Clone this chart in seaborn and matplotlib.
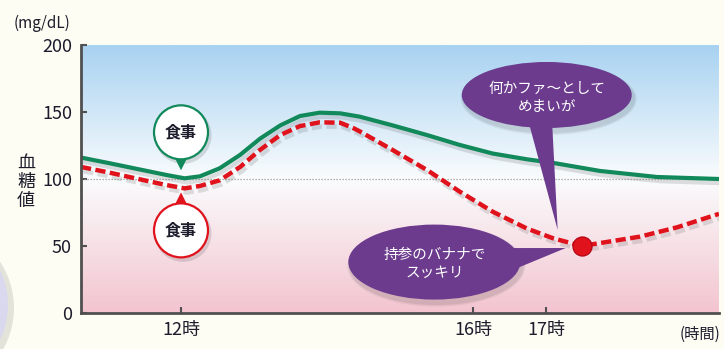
import numpy as np
import pandas as pd
import matplotlib
matplotlib.use("Agg")
import matplotlib.pyplot as plt
import matplotlib.patches as mpatches
import matplotlib.transforms as mtrans
import matplotlib.patheffects as pe
import seaborn as sns

# ---------------- data ----------------
hours_green = [10.63, 11.0, 11.4, 11.8, 12.05, 12.26, 12.53, 12.81, 13.08, 13.36,
               13.63, 13.9, 14.18, 14.45, 14.9, 15.37, 15.82, 16.27, 16.74, 17.1,
               17.74, 18.52, 19.37]
glucose_green = [116, 112, 107.5, 103, 100.5, 102, 108, 118, 130, 140,
                 147, 149.5, 149, 146.5, 140, 132.8, 125.4, 119, 114.7, 112,
                 106, 101.5, 100]

hours_red = [10.63, 11.0, 11.5, 11.8, 12.05, 12.26, 12.53, 12.81, 13.08, 13.36,
             13.63, 13.9, 14.18, 14.36, 14.45, 14.9, 15.37, 15.82, 16.27, 16.74,
             17.1, 17.49, 18.29, 18.8, 19.37]
glucose_red = [109, 105, 99, 95.5, 93, 94.8, 99, 109, 121.6, 132.8,
               139.5, 142.3, 142, 138, 135.5, 121.6, 106.7, 90.5, 75.6, 63,
               55.7, 50, 57, 64, 74]

banana_time = [17.49]
banana_value = [50]

yticks = [0, 50, 100, 150, 200]
xticks = [12, 16, 17]
xtick_labels = ["12時", "16時", "17時"]
meal_time = 12
meal_green = 100.5
meal_red = 93
reference_level = 100

meal_label = "食事"
dizzy_text = "何かファ〜として\nめまいが"
banana_text = "持参のバナナで\nスッキリ"
y_unit = "(mg/dL)"
y_title = "血\n糖\n値"
x_unit = "(時間)"

# ---------------- style ----------------
sns.set_theme(style="white")
plt.rcParams["font.family"] = ["Noto Sans CJK JP", "DejaVu Sans"]

W, H = 724, 349
BG = "#fefdf3"
GREEN = "#11895a"
RED = "#e0121c"
PURPLE = "#6c3b8e"
INK = "#1c1c2c"
SPINE = "#505050"

fig = plt.figure(figsize=(W / 100, H / 100), dpi=100, facecolor=BG)
ax = fig.add_axes([81 / W, 1 - 313 / H, 638 / W, 268 / H])
xmin, xmax = 10.63, 19.37
ax.set_xlim(xmin, xmax)
ax.set_ylim(0, 200)

# gradient background (blue top -> white at 100 -> pink bottom)
vals = np.linspace(0, 200, 256)
top = np.array([168, 210, 241]) / 255
mid = np.array([250, 252, 253]) / 255
bot = np.array([243, 196, 207]) / 255
cols = np.empty((256, 1, 3))
for i, v in enumerate(vals):
    if v >= 100:
        t = (v - 100) / 100
        cols[i, 0] = mid * (1 - t) + top * t
    else:
        t = (100 - v) / 100
        cols[i, 0] = mid * (1 - t) + bot * t
ax.imshow(cols, extent=[xmin, xmax, 0, 200], origin="lower", aspect="auto", zorder=0)

ax.axhline(reference_level, color="#9a9a9a", lw=0.9, ls=(0, (1, 1.4)), zorder=1)

df_g = pd.DataFrame({"hour": hours_green, "glucose": glucose_green})
df_r = pd.DataFrame({"hour": hours_red, "glucose": glucose_red})
sns.lineplot(data=df_g, x="hour", y="glucose", ax=ax, color=GREEN, linewidth=3.0,
             estimator=None, zorder=3)
gline = ax.lines[-1]
sns.lineplot(data=df_r, x="hour", y="glucose", ax=ax, color=RED, linewidth=3.2,
             estimator=None, zorder=4)
rline = ax.lines[-1]
rline.set_dashes((2.3, 1.0))
for ln in (gline, rline):
    ln.set_solid_joinstyle("round")
    ln.set_dash_joinstyle("round")
    ln.set_solid_capstyle("butt")
    ln.set_dash_capstyle("butt")
    ln.set_path_effects([pe.SimpleLineShadow(offset=(1.5, -3), shadow_color="#555555", alpha=0.18),
                         pe.Normal()])

sns.scatterplot(x=banana_time, y=banana_value, ax=ax, s=190, color=RED,
                edgecolor="#b00010", linewidth=0.8, zorder=6)

ax.set_xlabel("")
ax.set_ylabel("")
ax.set_yticks(yticks)
ax.set_yticklabels([str(v) for v in yticks])
ax.set_xticks(xticks)
ax.set_xticklabels(xtick_labels)
for side in ("top", "right"):
    ax.spines[side].set_visible(False)
for side in ("left", "bottom"):
    ax.spines[side].set_visible(True)
    ax.spines[side].set_color(SPINE)
    ax.spines[side].set_linewidth(2.0)
    ax.spines[side].set_zorder(7)
ax.tick_params(axis="both", direction="in", length=4.5, width=1.5, color=SPINE,
               labelsize=13, labelcolor=INK, left=True, bottom=True)
ax.tick_params(axis="y", pad=6.5)
ax.tick_params(axis="x", pad=5.5)

# ---------------- annotations ----------------
ID = mtrans.IdentityTransform()


def px(x, y):
    return ax.transData.transform((x, y))


def add(p):
    p.set_transform(ID)
    p.set_clip_on(False)
    fig.add_artist(p)


def meal_bubble(anchor, dy, edge):
    cx, cy = anchor[0], anchor[1] + dy
    r = 27
    sgn = -1 if dy > 0 else 1
    add(mpatches.Circle((cx + 2, cy - 3), r + 1.5, facecolor="#000000", alpha=0.12,
                        edgecolor="none", zorder=8))
    tri = mpatches.Polygon([(cx - 7, cy + sgn * (r - 3)), (cx + 7, cy + sgn * (r - 3)),
                            (cx, cy + sgn * (r + 11))], closed=True,
                           facecolor=edge, edgecolor="none", zorder=9)
    add(tri)
    add(mpatches.Circle((cx, cy), r, facecolor="white", edgecolor=edge, linewidth=1.6, zorder=10))
    fig.text(cx / W, cy / H, meal_label, ha="center", va="center", fontsize=11.5,
             fontweight="bold", color=INK, zorder=11)


meal_bubble(px(meal_time, meal_green), 46, GREEN)
meal_bubble(px(meal_time, meal_red), -42, RED)


def speech(center, w, h, tail, text, tdy):
    cx, cy = center
    for k, a in ((6, 0.06), (3, 0.08)):
        add(mpatches.Ellipse((cx + 2, cy - 4), w + k, h + k, facecolor="#000000",
                             alpha=a, edgecolor="none", zorder=8))
    add(mpatches.Polygon(tail, closed=True, facecolor=PURPLE, edgecolor="none", zorder=9))
    add(mpatches.Ellipse((cx, cy), w, h, facecolor=PURPLE, edgecolor="none", zorder=10))
    fig.text(cx / W, (cy + tdy) / H, text, ha="center", va="center", fontsize=10.5,
             color="white", linespacing=1.35, zorder=11)


# upper bubble: points to the red curve around 17時
c1 = px(17.01, 162.7)
tip1 = px(17.16, 62)
speech(c1, 170, 66, [(c1[0] - 20, c1[1] - 20), (c1[0] + 5, c1[1] - 20), tip1],
       dizzy_text, -3)

# lower bubble: points to the banana dot
dot = px(banana_time[0], banana_value[0])
c2 = px(15.47, 38.0)
tip2 = (dot[0] - 16, dot[1] - 2)
speech(c2, 172, 75, [(c2[0] + 60, c2[1] + 14), (c2[0] + 66, c2[1] - 13), tip2],
       banana_text, -2)

# axis captions
fig.text(42 / W, 1 - 23 / H, y_unit, ha="center", va="center", fontsize=11, color=INK)
fig.text(26 / W, 1 - 182 / H, y_title, ha="center", va="center", fontsize=13,
         color=INK, linespacing=1.05)
fig.text(700 / W, 1 - 334 / H, x_unit, ha="center", va="center", fontsize=11, color=INK)

# decorative lavender disc at the left edge
add(mpatches.Circle((-70, 41), 84, facecolor="#000000", alpha=0.10, edgecolor="none", zorder=1))
add(mpatches.Circle((-72.5, 44), 80.5, facecolor="#d9d8ee", edgecolor="none", zorder=2))

fig.savefig("out.png", dpi=100, facecolor=BG)
